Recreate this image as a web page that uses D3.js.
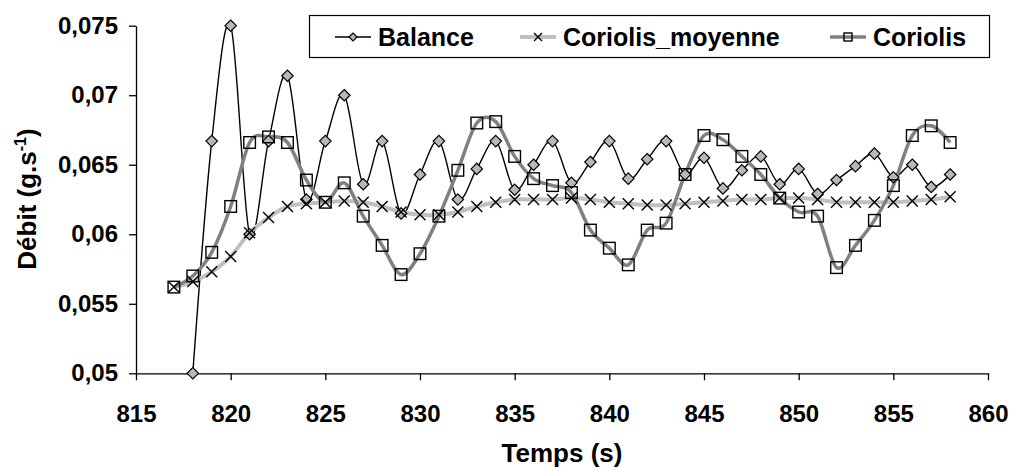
<!DOCTYPE html>
<html>
<head>
<meta charset="utf-8">
<script src="https://cdn.jsdelivr.net/npm/d3@7"></script>
<style>
  html, body { margin: 0; padding: 0; background: #fff; }
  svg { display: block; }
  text { font-family: "Liberation Sans", Arial, sans-serif; font-weight: bold; fill: #000; }
</style>
</head>
<body>
<svg id="chart" width="1010" height="467"></svg>
<script>
// ---- data ----
const times = d3.range(817, 859);
const balance = [null, 0.0500, 0.0667, 0.0750, 0.0600, 0.0667, 0.0714, 0.0625, 0.0667, 0.0700,
  0.0636, 0.0667, 0.0615, 0.0643, 0.0667, 0.0625, 0.0647, 0.0667, 0.0632, 0.0650,
  0.0667, 0.0637, 0.0652, 0.0667, 0.0640, 0.0654, 0.0667, 0.0643, 0.0655, 0.0633,
  0.0646, 0.0656, 0.0636, 0.0647, 0.0629, 0.0639, 0.0649, 0.0658, 0.0641, 0.0650,
  0.0634, 0.0643];
const coriolisMoyenne = [0.0562, 0.0566, 0.0573, 0.0584, 0.0601, 0.0612, 0.0620, 0.0622, 0.0623, 0.0624,
  0.0623, 0.0620, 0.0616, 0.0614, 0.0614, 0.0616, 0.0620, 0.0623, 0.0625, 0.0625,
  0.0625, 0.0626, 0.0625, 0.0623, 0.0622, 0.0621, 0.0621, 0.0622, 0.0623, 0.0624,
  0.0625, 0.0625, 0.0626, 0.0626, 0.0625, 0.0623, 0.0623, 0.0623, 0.0623, 0.0624,
  0.0625, 0.0627];
const coriolis = [0.0562, 0.0570, 0.0587, 0.0620, 0.0666, 0.0670, 0.0666, 0.0639, 0.0623, 0.0637,
  0.0613, 0.0592, 0.0571, 0.0586, 0.0613, 0.0646, 0.0680, 0.0681, 0.0656, 0.0640,
  0.0635, 0.0630, 0.0603, 0.0590, 0.0578, 0.0603, 0.0608, 0.0643, 0.0671, 0.0668,
  0.0656, 0.0643, 0.0626, 0.0616, 0.0613, 0.0576, 0.0592, 0.0610, 0.0635, 0.0671,
  0.0678, 0.0666];
const seriesNames = ["Balance", "Coriolis_moyenne", "Coriolis"];
const xTicks = [815, 820, 825, 830, 835, 840, 845, 850, 855, 860];
const yTicks = [0.05, 0.055, 0.06, 0.065, 0.07, 0.075];
const yTickLabels = ["0,05", "0,055", "0,06", "0,065", "0,07", "0,075"];
const xTitle = "Temps (s)";

// ---- layout ----
const svg = d3.select("#chart");
const x = d3.scaleLinear().domain([815, 860]).range([136, 988]);
const y = d3.scaleLinear().domain([0.05, 0.075]).range([373.3, 25.7]);
const FS = 24;

// axes
const xAxis = svg.append("g").attr("transform", `translate(0,${y(0.05)})`)
  .call(d3.axisBottom(x).tickValues(xTicks).tickSize(7).tickSizeOuter(0).tickFormat(d3.format("d")));
const yAxis = svg.append("g").attr("transform", `translate(${x(815)},0)`)
  .call(d3.axisLeft(y).tickValues(yTicks).tickSize(7).tickSizeOuter(0)
    .tickFormat((d, i) => yTickLabels[i]));
[xAxis, yAxis].forEach(g => {
  g.select(".domain").attr("stroke", "#000").attr("stroke-width", 1.3);
  g.selectAll(".tick line").attr("stroke", "#000").attr("stroke-width", 1.3);
  g.selectAll(".tick text").style("font-size", FS + "px").style("font-family", '"Liberation Sans", Arial, sans-serif').style("font-weight", "bold").attr("fill", "#000");
});
xAxis.selectAll(".tick text").attr("y", 0).attr("dy", 0).attr("transform", "translate(0,48.5)");
yAxis.selectAll(".tick text").attr("x", -18);

// axis titles
svg.append("text").attr("x", 562).attr("y", 462).attr("text-anchor", "middle")
  .style("font-size", "26px").text(xTitle);
const yt = svg.append("text").attr("transform", "translate(36,199) rotate(-90)")
  .attr("text-anchor", "middle").style("font-size", "26px");
yt.append("tspan").text("Débit (g.s");
yt.append("tspan").attr("dy", -10).style("font-size", "16px").text("-1");
yt.append("tspan").attr("dy", 10).text(")");

// lines
const mk = arr => times.map((t, i) => ({ t, v: arr[i] })).filter(d => d.v != null);
const lineGen = d3.line().x(d => x(d.t)).y(d => y(d.v)).curve(d3.curveCardinal.tension(0));

const dBal = mk(balance), dMoy = mk(coriolisMoyenne), dCor = mk(coriolis);

svg.append("path").datum(dBal).attr("d", lineGen).attr("fill", "none").attr("stroke", "#000").attr("stroke-width", 1.4);
svg.append("path").datum(dMoy).attr("d", lineGen).attr("fill", "none").attr("stroke", "#c0c0c0").attr("stroke-width", 4);
svg.append("path").datum(dCor).attr("d", lineGen).attr("fill", "none").attr("stroke", "#808080").attr("stroke-width", 3.5);

// marker helpers
function diamond(g, cx, cy, r) {
  g.append("path").attr("d", `M${cx},${cy - r}L${cx + r},${cy}L${cx},${cy + r}L${cx - r},${cy}Z`)
    .attr("fill", "#b8b8b8").attr("stroke", "#000").attr("stroke-width", 1.2);
}
function cross(g, cx, cy, r) {
  g.append("path").attr("d", `M${cx - r},${cy - r}L${cx + r},${cy + r}M${cx - r},${cy + r}L${cx + r},${cy - r}`)
    .attr("stroke", "#000").attr("stroke-width", 1.4).attr("fill", "none");
}
function square(g, cx, cy, r) {
  g.append("rect").attr("x", cx - r).attr("y", cy - r).attr("width", 2 * r).attr("height", 2 * r)
    .attr("fill", "none").attr("stroke", "#000").attr("stroke-width", 1.4);
}

const gm = svg.append("g");
dBal.forEach(d => diamond(gm, x(d.t), y(d.v), 5.7));
dMoy.forEach(d => cross(gm, x(d.t), y(d.v), 5.5));
dCor.forEach(d => square(gm, x(d.t), y(d.v), 5.8));

// legend
const lg = svg.append("g");
lg.append("rect").attr("x", 309.5).attr("y", 15.5).attr("width", 680).attr("height", 42)
  .attr("fill", "#fff").attr("stroke", "#000").attr("stroke-width", 1.2);
const ly = 37;
const legendItems = [
  { name: seriesNames[0], x0: 335, color: "#000", w: 1.4, mark: diamond, tx: 378 },
  { name: seriesNames[1], x0: 520, color: "#c0c0c0", w: 4, mark: cross, tx: 563 },
  { name: seriesNames[2], x0: 830, color: "#808080", w: 3.5, mark: square, tx: 873 }
];
legendItems.forEach(it => {
  lg.append("line").attr("x1", it.x0).attr("x2", it.x0 + 36).attr("y1", ly).attr("y2", ly)
    .attr("stroke", it.color).attr("stroke-width", it.w);
  it.mark(lg, it.x0 + 18, ly, 4);
  lg.append("text").attr("x", it.tx).attr("y", ly).attr("dy", "0.36em").style("font-size", "25px").text(it.name);
});
</script>
</body>
</html>
